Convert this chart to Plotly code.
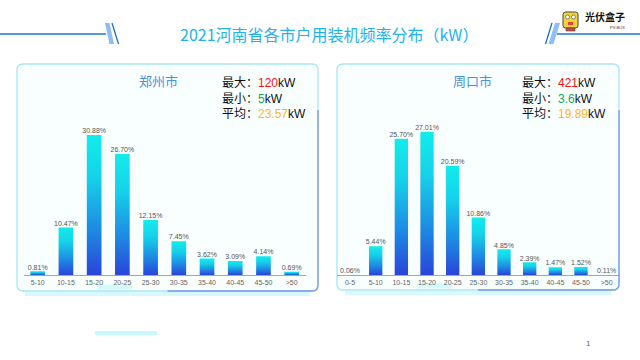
import plotly.graph_objects as go

# ---------------- data ----------------
zz_city = "郑州市"
zz_cats = ["5-10", "10-15", "15-20", "20-25", "25-30", "30-35", "35-40", "40-45", "45-50", ">50"]
zz_vals = [0.81, 10.47, 30.88, 26.70, 12.15, 7.45, 3.62, 3.09, 4.14, 0.69]
zz_stats = {"max": "120", "min": "5", "avg": "23.57"}

zk_city = "周口市"
zk_cats = ["0-5", "5-10", "10-15", "15-20", "20-25", "25-30", "30-35", "35-40", "40-45", "45-50", ">50"]
zk_vals = [0.06, 5.44, 25.70, 27.01, 20.59, 10.86, 4.85, 2.39, 1.47, 1.52, 0.11]
zk_stats = {"max": "421", "min": "3.6", "avg": "19.89"}

title_text = "2021河南省各市户用装机频率分布（kW）"

# ---------------- helpers ----------------
W, H = 640, 360


def X(px):
    return px / W


def Y(py):
    return 1 - py / H


GRAD = [[0, "#2A44D8"], [0.3, "#1E86E3"], [0.7, "#15D2EA"], [1, "#12ECEA"]]
HALF = 0.26

fig = go.Figure()


def add_panel(cats, vals, xa, ya):
    for i, v in enumerate(vals):
        fig.add_trace(go.Scatter(
            x=[i - HALF, i + HALF, i + HALF, i - HALF, i - HALF],
            y=[0, 0, v, v, 0],
            mode="lines", line=dict(width=0),
            fill="toself",
            fillgradient=dict(type="vertical", colorscale=GRAD),
            hoverinfo="skip", showlegend=False,
            xaxis=xa, yaxis=ya,
        ))
    fig.add_trace(go.Scatter(
        x=list(range(len(vals))), y=vals,
        mode="text", text=[f"{v:.2f}%" for v in vals],
        textposition="top center",
        textfont=dict(size=7, color="#555555", family="Liberation Sans"),
        cliponaxis=False, hoverinfo="skip", showlegend=False,
        xaxis=xa, yaxis=ya,
    ))


add_panel(zz_cats, zz_vals, "x", "y")
add_panel(zk_cats, zk_vals, "x2", "y2")

axis_common = dict(showgrid=False, zeroline=False, ticks="",
                   showline=True, linecolor="#6DB6E8", linewidth=1.2,
                   tickfont=dict(size=7, color="#666666", family="Liberation Sans"),
                   fixedrange=True)

fig.update_layout(
    width=W, height=H,
    margin=dict(l=0, r=0, t=0, b=0),
    paper_bgcolor="white", plot_bgcolor="rgba(0,0,0,0)",
    showlegend=False,
    xaxis=dict(domain=[X(23.6), X(305.8)], range=[-0.5, len(zz_cats) - 0.5],
               tickvals=list(range(len(zz_cats))), ticktext=zz_cats, anchor="y", **axis_common),
    yaxis=dict(domain=[Y(275), Y(100)], range=[0, 38.6], visible=False, anchor="x", fixedrange=True),
    xaxis2=dict(domain=[X(337.2), X(619.5)], range=[-0.5, len(zk_cats) - 0.5],
                tickvals=list(range(len(zk_cats))), ticktext=zk_cats, anchor="y2", **axis_common),
    yaxis2=dict(domain=[Y(275), Y(100)], range=[0, 32.99], visible=False, anchor="x2", fixedrange=True),
)


# ---------------- decorations ----------------
def rrect_path(x0, y0, x1, y1, r):
    rx, ry = r / W, r / H
    a, b, c, d = X(x0), Y(y0), X(x1), Y(y1)
    return (f"M {a+rx},{b} L {c-rx},{b} Q {c},{b} {c},{b-ry} L {c},{d+ry} "
            f"Q {c},{d} {c-rx},{d} L {a+rx},{d} Q {a},{d} {a},{d+ry} L {a},{b-ry} "
            f"Q {a},{b} {a+rx},{b} Z")


def br_path(x0, y0, x1, y1, r):
    rx, ry = r / W, r / H
    a, b, c, d = X(x0), Y(y0), X(x1), Y(y1)
    return (f"M {a},{d} L {c-rx},{d} Q {c},{d} {c},{d+ry} L {c},{b-ry}")


shapes = []
for (x0, y0, x1, y1) in [(17, 64, 318, 291), (337, 64, 619, 290)]:
    # glow under box
    shapes.append(dict(type="line", xref="paper", yref="paper",
                       x0=X(x0 + 8), x1=X(x1 - 8), y0=Y(y1 + 3), y1=Y(y1 + 3),
                       line=dict(color="rgba(140,235,245,0.35)", width=4), layer="below"))
    shapes.append(dict(type="path", xref="paper", yref="paper",
                       path=rrect_path(x0, y0, x1, y1, 6),
                       fillcolor="#F9FEFF", line=dict(color="#A8E6F4", width=1.3), layer="below"))
    shapes.append(dict(type="path", xref="paper", yref="paper",
                       path=br_path((x0 + x1) / 2, y0 + 40, x1, y1, 6),
                       line=dict(color="#7A98EA", width=1.3), layer="below"))
    # soft glow spot near bottom
    shapes.append(dict(type="line", xref="paper", yref="paper",
                       x0=X(x0 + 80), x1=X(x0 + 115), y0=Y(y1 - 4), y1=Y(y1 - 4),
                       line=dict(color="rgba(150,240,250,0.35)", width=5), layer="below"))

# faint cyan glow at page bottom
shapes.append(dict(type="line", xref="paper", yref="paper",
                   x0=X(95), x1=X(157), y0=Y(333), y1=Y(333),
                   line=dict(color="rgba(130,240,250,0.45)", width=4)))

# header lines and slashes
shapes += [
    dict(type="line", xref="paper", yref="paper", x0=0, x1=X(106), y0=Y(34), y1=Y(34),
         line=dict(color="#1F78C8", width=1.5)),
    dict(type="path", xref="paper", yref="paper",
         path=f"M {X(105)},{Y(23)} L {X(109.5)},{Y(23)} L {X(114)},{Y(44)} L {X(109.5)},{Y(44)} Z",
         fillcolor="#8EBDF7", line=dict(width=0)),
    dict(type="line", xref="paper", yref="paper", x0=X(112), x1=X(118.5), y0=Y(23), y1=Y(44),
         line=dict(color="#1F6FC0", width=1.3)),
    dict(type="line", xref="paper", yref="paper", x0=X(552), x1=X(545.5), y0=Y(23), y1=Y(44),
         line=dict(color="#1F6FC0", width=1.3)),
    dict(type="path", xref="paper", yref="paper",
         path=f"M {X(555)},{Y(23)} L {X(560)},{Y(23)} L {X(553.5)},{Y(44)} L {X(548.5)},{Y(44)} Z",
         fillcolor="#8EBDF7", line=dict(width=0)),
    dict(type="line", xref="paper", yref="paper", x0=X(557), x1=1, y0=Y(34), y1=Y(34),
         line=dict(color="#1F78C8", width=1.5)),
]

# logo icon
shapes += [
    dict(type="path", xref="paper", yref="paper", path=rrect_path(563, 12, 578, 28, 2.5),
         fillcolor="#F2D43A", line=dict(color="#444444", width=1)),
    dict(type="circle", xref="paper", yref="paper", x0=X(565.5), x1=X(569.5), y0=Y(15), y1=Y(19),
         fillcolor="white", line=dict(color="#444444", width=0.6)),
    dict(type="circle", xref="paper", yref="paper", x0=X(571.5), x1=X(575.5), y0=Y(15), y1=Y(19),
         fillcolor="white", line=dict(color="#444444", width=0.6)),
    dict(type="rect", xref="paper", yref="paper", x0=X(568), x1=X(573), y0=Y(22), y1=Y(25),
         fillcolor="#E0443A", line=dict(width=0)),
    dict(type="rect", xref="paper", yref="paper", x0=X(566), x1=X(575), y0=Y(28), y1=Y(31),
         fillcolor="#D9463C", line=dict(color="#444444", width=0.6)),
]
fig.update_layout(shapes=shapes)

# ---------------- text ----------------
CJK = "Noto Sans CJK SC"


def A(text, px, py, xanchor="center", **font):
    return dict(text=text, x=X(px), y=Y(py), xref="paper", yref="paper",
                xanchor=xanchor, yanchor="middle", showarrow=False, font=font,
                borderpad=0)


ann = [
    A(title_text, 329, 34, size=16, color="#22B2EE", family=CJK),
    A("<b>光伏盒子</b>", 584, 16.5, "left", size=10, color="#111111", family=CJK),
    A("PV-BOX", 626, 27.5, "right", size=4, color="#333333", family="Liberation Sans"),
    A("1", 588, 343, size=8, color="#666666", family="Liberation Sans"),
]


def stats_ann(city, cx, sx, st):
    out = [A(city, cx, 81, size=13, color="#4C92DA", family=CJK)]
    rows = [("最大：", st["max"], "#FF1010"), ("最小：", st["min"], "#18A85A"), ("平均：", st["avg"], "#FFB51E")]
    for k, (lab, val, col) in enumerate(rows):
        out.append(A(f"{lab}<span style='color:{col}'>{val}</span>kW", sx, 83 + 15.5 * k, "left",
                     size=12, color="#111111", family="Liberation Sans, " + CJK))
    return out


ann += stats_ann(zz_city, 158, 221, zz_stats)
ann += stats_ann(zk_city, 472, 521, zk_stats)
fig.update_layout(annotations=ann)

fig.write_html("out.html", config={"displayModeBar": False, "staticPlot": True},
               post_script="document.body.style.margin='0';document.body.style.padding='0';")
